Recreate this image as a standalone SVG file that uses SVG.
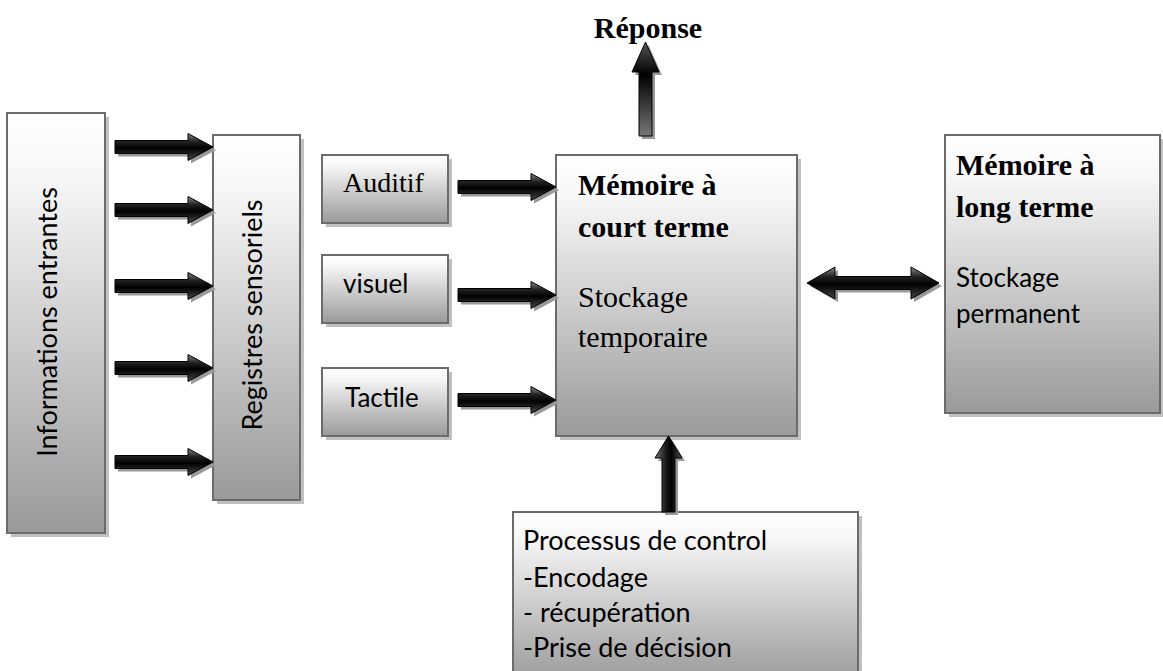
<svg xmlns="http://www.w3.org/2000/svg" width="1163" height="671" viewBox="0 0 1163 671">
  <style>
    .box { fill: url(#boxFill); stroke: #6b6b6b; stroke-width: 2; }
    .shadow { fill: #c0c0c0; }
    .sans { font-family: Lato, "Open Sans", "Liberation Sans", sans-serif; fill: #000; }
    .serif { font-family: "Liberation Serif", "Times New Roman", serif; fill: #000; }
    .bold { font-weight: bold; }
    .arrow { fill: url(#arrowH); stroke: #000; stroke-width: 1; }
    .arrowShadow { fill: #999999; }
  </style>
  <defs>
    <linearGradient id="boxFill" x1="0" y1="0" x2="0" y2="1">
      <stop offset="0" stop-color="#ffffff"/>
      <stop offset="0.15" stop-color="#f7f7f7"/>
      <stop offset="1" stop-color="#9a9a9a"/>
    </linearGradient>
    <linearGradient id="arrowH" x1="0" y1="0" x2="0" y2="1">
      <stop offset="0" stop-color="#8a8a8a"/>
      <stop offset="0.3" stop-color="#222222"/>
      <stop offset="0.55" stop-color="#000000"/>
      <stop offset="1" stop-color="#4a4a4a"/>
    </linearGradient>
    <linearGradient id="arrowUpReponse" x1="0" y1="0" x2="0" y2="1">
      <stop offset="0" stop-color="#555555"/>
      <stop offset="0.35" stop-color="#000000"/>
      <stop offset="1" stop-color="#777777"/>
    </linearGradient>
    <linearGradient id="arrowUpControl" x1="0" y1="0" x2="1" y2="0">
      <stop offset="0" stop-color="#7a7a7a"/>
      <stop offset="0.4" stop-color="#1a1a1a"/>
      <stop offset="0.6" stop-color="#000000"/>
      <stop offset="1" stop-color="#555555"/>
    </linearGradient>
    <!-- right-pointing block arrow, tail at origin, tip at (98,0) -->
    <path id="arrowRight" d="M0,-6.5 H73 V-13.5 L98,0 L73,13.5 V6.5 H0 Z"/>
  </defs>

  <!-- Nodes -->
  <g id="informations-entrantes">
    <rect class="shadow" x="11" y="117" width="98" height="420"/>
    <rect class="box" x="7" y="113" width="98" height="420"/>
    <text class="sans" font-size="27" text-anchor="middle" transform="translate(57,322) rotate(-90)">Informations entrantes</text>
  </g>

  <g id="registres-sensoriels">
    <rect class="shadow" x="217" y="139" width="87" height="365"/>
    <rect class="box" x="213" y="135" width="87" height="365"/>
    <text class="sans" font-size="27" text-anchor="middle" transform="translate(262,315) rotate(-90)">Registres sensoriels</text>
  </g>

  <g id="auditif">
    <rect class="shadow" x="326" y="159" width="126" height="68"/>
    <rect class="box" x="322" y="155" width="126" height="68"/>
    <text class="serif" x="343" y="192" font-size="28">Auditif</text>
  </g>

  <g id="visuel">
    <rect class="shadow" x="326" y="259" width="126" height="68"/>
    <rect class="box" x="322" y="255" width="126" height="68"/>
    <text class="sans" x="343" y="293" font-size="26">visuel</text>
  </g>

  <g id="tactile">
    <rect class="shadow" x="326" y="372" width="126" height="68"/>
    <rect class="box" x="322" y="368" width="126" height="68"/>
    <text class="sans" x="345" y="407" font-size="26">Tactile</text>
  </g>

  <g id="memoire-court-terme">
    <rect class="shadow" x="560" y="159" width="241" height="281"/>
    <rect class="box" x="556" y="155" width="241" height="281"/>
    <text class="serif bold" x="578" y="195" font-size="30">Mémoire à</text>
    <text class="serif bold" x="578" y="237" font-size="30">court terme</text>
    <text class="serif" x="578" y="307" font-size="30">Stockage</text>
    <text class="serif" x="578" y="347" font-size="30">temporaire</text>
  </g>

  <g id="memoire-long-terme">
    <rect class="shadow" x="949" y="139" width="215" height="278"/>
    <rect class="box" x="945" y="135" width="215" height="278"/>
    <text class="serif bold" x="956" y="175" font-size="30">Mémoire à</text>
    <text class="serif bold" x="956" y="217" font-size="30">long terme</text>
    <text class="sans" x="956" y="287" font-size="26">Stockage</text>
    <text class="sans" x="956" y="323" font-size="26">permanent</text>
  </g>

  <g id="processus-controle">
    <rect class="shadow" x="517" y="516" width="345" height="170"/>
    <rect class="box" x="513" y="512" width="345" height="170"/>
    <text class="sans" x="523" y="550" font-size="27">Processus de control</text>
    <text class="sans" x="523" y="587" font-size="27">-Encodage</text>
    <text class="sans" x="523" y="622" font-size="27">- récupération</text>
    <text class="sans" x="523" y="657" font-size="27">-Prise de décision</text>
  </g>

  <g id="reponse">
    <text class="serif bold" x="648" y="38" font-size="30" text-anchor="middle">Réponse</text>
  </g>

  <!-- Connectors -->
  <g id="connectors">
    <!-- informations entrantes -> registres sensoriels -->
    <use href="#arrowRight" class="arrowShadow" transform="translate(118,150)"/>
    <use href="#arrowRight" class="arrow" transform="translate(115,147)"/>
    <use href="#arrowRight" class="arrowShadow" transform="translate(118,213)"/>
    <use href="#arrowRight" class="arrow" transform="translate(115,210)"/>
    <use href="#arrowRight" class="arrowShadow" transform="translate(118,289)"/>
    <use href="#arrowRight" class="arrow" transform="translate(115,286)"/>
    <use href="#arrowRight" class="arrowShadow" transform="translate(118,371)"/>
    <use href="#arrowRight" class="arrow" transform="translate(115,368)"/>
    <use href="#arrowRight" class="arrowShadow" transform="translate(118,465)"/>
    <use href="#arrowRight" class="arrow" transform="translate(115,462)"/>

    <!-- sensory channels -> memoire a court terme -->
    <use href="#arrowRight" class="arrowShadow" transform="translate(461,190)"/>
    <use href="#arrowRight" class="arrow" transform="translate(458,187)"/>
    <use href="#arrowRight" class="arrowShadow" transform="translate(461,298)"/>
    <use href="#arrowRight" class="arrow" transform="translate(458,295)"/>
    <use href="#arrowRight" class="arrowShadow" transform="translate(461,403)"/>
    <use href="#arrowRight" class="arrow" transform="translate(458,400)"/>

    <!-- memoire a court terme -> reponse -->
    <path class="arrowShadow" transform="translate(3,3)" d="M639,136 V72 H632 L645.5,42 L659,72 H652 V136 Z"/>
    <path fill="url(#arrowUpReponse)" stroke="#000" stroke-width="1" d="M639,136 V72 H632 L645.5,42 L659,72 H652 V136 Z"/>

    <!-- processus de control -> memoire a court terme -->
    <path class="arrowShadow" transform="translate(3,3)" d="M662,512 V458 H655 L668.5,436 L682,458 H675 V512 Z"/>
    <path fill="url(#arrowUpControl)" stroke="#000" stroke-width="1" d="M662,512 V458 H655 L668.5,436 L682,458 H675 V512 Z"/>

    <!-- memoire a court terme <-> memoire a long terme -->
    <path class="arrowShadow" transform="translate(3,3)" d="M807,283 L835,267 V276.5 H911 V267 L939,283 L911,299 V289.5 H835 V299 Z"/>
    <path class="arrow" d="M807,283 L835,267 V276.5 H911 V267 L939,283 L911,299 V289.5 H835 V299 Z"/>
  </g>
</svg>
